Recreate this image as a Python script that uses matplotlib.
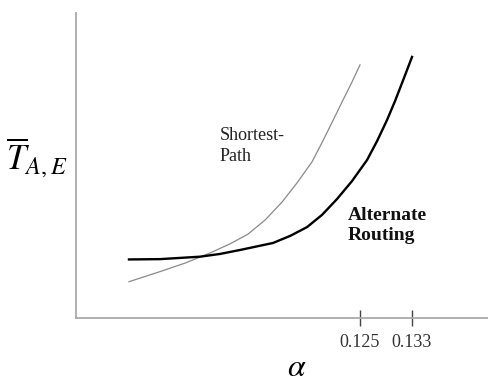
import numpy as np
import matplotlib
matplotlib.use('Agg')
import matplotlib.pyplot as plt

plt.rcParams['mathtext.fontset'] = 'stix'

# alpha values and delay
alt_x = [0.08946, 0.09423, 0.10038, 0.10346, 0.10654, 0.11162, 0.11423, 0.11685,
         0.11915, 0.12146, 0.12377, 0.12608, 0.12762, 0.12915, 0.13038, 0.13162, 0.133]
alt_y = [19.2, 19.3, 20.1, 21.0, 22.3, 24.6, 26.9, 29.8,
         33.8, 39.0, 44.9, 51.8, 58.0, 64.9, 71.1, 77.9, 85.6]

sp_x = [0.08946, 0.09423, 0.09808, 0.10192, 0.105, 0.10777, 0.11038, 0.113,
        0.11531, 0.11762, 0.11915, 0.12069, 0.12223, 0.12377, 0.125]
sp_y = [11.9, 15.2, 18.0, 21.3, 24.3, 27.5, 32.1, 38.0,
        44.3, 51.2, 57.5, 64.1, 70.8, 77.4, 83.0]

tick_pos = [0.125, 0.133]
tick_lbl = ['0.125', '0.133']

fig = plt.figure(figsize=(4.89, 3.85), dpi=100)
ax = fig.add_axes([76/489, 67/385, 413/489, 305/385])

ax.plot(sp_x, sp_y, color='#8a8a8a', lw=0.9)
ax.plot(alt_x, alt_y, color='black', lw=1.7)

ax.set_xlim(0.08131, 0.14484)
ax.set_ylim(0, 100)

for s in ['top', 'right']:
    ax.spines[s].set_visible(False)
for s in ['left', 'bottom']:
    ax.spines[s].set_color('#aaaaaa')
    ax.spines[s].set_linewidth(1.3)

ax.set_yticks([])
ax.set_xticks(tick_pos)
ax.set_xticklabels(tick_lbl, fontfamily='Liberation Serif', fontsize=13, color='#333333')
ax.tick_params(axis='x', direction='inout', length=11, width=1, color='#444444', pad=6)

ax.text(0.10346, 62.6, 'Shortest-\nPath', fontfamily='Liberation Serif', fontsize=13,
        color='#222222', va='top', ha='left', linespacing=1.3)
ax.text(0.12315, 36.4, 'Alternate\nRouting', fontfamily='Liberation Serif', fontsize=14,
        fontweight='bold', color='#111111', va='top', ha='left', linespacing=1.2)

fig.text(0.0757, 0.5896, r'$\overline{T}_{A,E}$', fontsize=25, ha='center', va='center')
fig.text(0.607, 0.045, r'$\alpha$', fontsize=23, ha='center', va='center')

fig.savefig('out.png', dpi=100)
